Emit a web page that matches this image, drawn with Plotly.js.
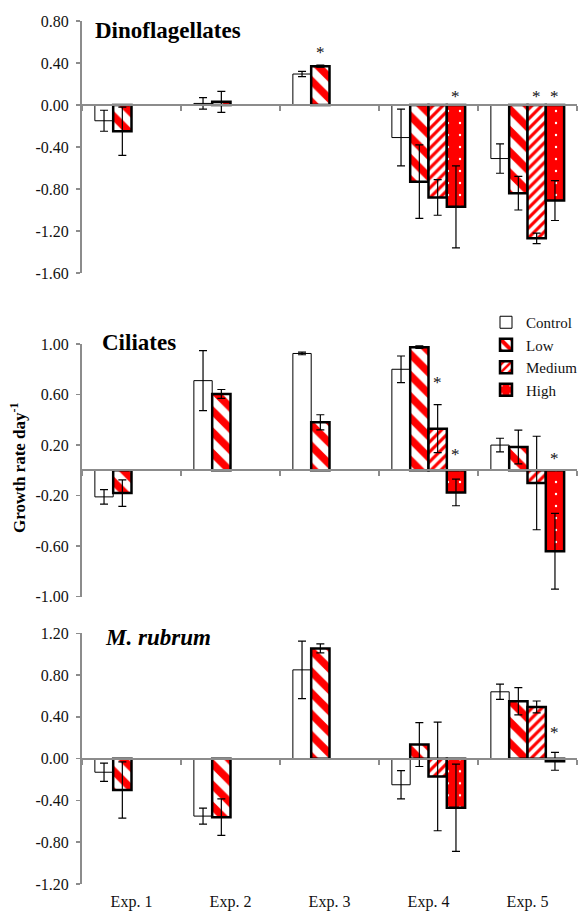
<!DOCTYPE html>
<html>
<head>
<meta charset="utf-8">
<script src="https://cdn.plot.ly/plotly-3.0.1.min.js"></script>
<style>html,body{margin:0;padding:0;background:#fff;}#chart{width:587px;height:912px;}</style>
</head>
<body>
<div id="chart"></div>
<script>
// ---------- DATA ----------
const categories = ['Exp. 1', 'Exp. 2', 'Exp. 3', 'Exp. 4', 'Exp. 5'];
const seriesNames = ['Control', 'Low', 'Medium', 'High'];
const panelTitles = ['<b>Dinoflagellates</b>', '<b>Ciliates</b>', '<b><i>M. rubrum</i></b>'];

// Dinoflagellates
const dinoControl = [-0.15, 0.015, 0.295, -0.31, -0.51];
const dinoControlErr = [0.10, 0.055, 0.025, 0.27, 0.14];
const dinoLow = [-0.25, 0.03, 0.37, -0.73, -0.84];
const dinoLowErr = [0.23, 0.10, 0.01, 0.35, 0.16];
const dinoMedium = [null, null, null, -0.88, -1.27];
const dinoMediumErr = [null, null, null, 0.17, 0.05];
const dinoHigh = [null, null, null, -0.97, -0.91];
const dinoHighErr = [null, null, null, 0.39, 0.19];
// significance stars: [category index, series index, y]
const dinoStars = [[2, 1, 0.54], [3, 3, 0.12], [4, 2, 0.12], [4, 3, 0.12]];

// Ciliates
const ciliControl = [-0.21, 0.71, 0.925, 0.80, 0.20];
const ciliControlErr = [0.058, 0.237, 0.01, 0.105, 0.054];
const ciliLow = [-0.18, 0.605, 0.38, 0.975, 0.185];
const ciliLowErr = [0.105, 0.035, 0.06, 0.01, 0.134];
const ciliMedium = [null, null, null, 0.33, -0.10];
const ciliMediumErr = [null, null, null, 0.19, 0.37];
const ciliHigh = [null, null, null, -0.175, -0.64];
const ciliHighErr = [null, null, null, 0.105, 0.30];
const ciliStars = [[3, 2, 0.726], [3, 3, 0.158], [4, 3, 0.129]];

// M. rubrum
const rubControl = [-0.13, -0.55, 0.85, -0.25, 0.64];
const rubControlErr = [0.088, 0.077, 0.275, 0.135, 0.073];
const rubLow = [-0.30, -0.56, 1.055, 0.135, 0.55];
const rubLowErr = [0.27, 0.175, 0.043, 0.21, 0.13];
const rubMedium = [null, null, null, -0.17, 0.495];
const rubMediumErr = [null, null, null, 0.52, 0.057];
const rubHigh = [null, null, null, -0.47, -0.025];
const rubHighErr = [null, null, null, 0.418, 0.086];
const rubStars = [[4, 3, 0.293]];

// y tick values
const dinoTicks = [-1.6, -1.2, -0.8, -0.4, 0, 0.4, 0.8];
const ciliTicks = [-1.0, -0.6, -0.2, 0.2, 0.6, 1.0];
const rubTicks = [-1.2, -0.8, -0.4, 0, 0.4, 0.8, 1.2];

const yTitle = '<b>Growth rate day<sup>-1</sup></b>';

// ---------- LAYOUT / STYLE ----------
const W = 587, H = 912;
const FONT = '"Liberation Serif", "Times New Roman", Times, serif';
const px2x = p => p / W;
const px2y = p => 1 - p / H;
const xLeft = 82, xRight = 577;
const xDomain = [px2x(xLeft), px2x(xRight)];
const BARGAP = 0.26;
const catW = (xRight - xLeft) / categories.length;
const barW = catW * (1 - BARGAP) / 4;

const panels = [
  {vals: [dinoControl, dinoLow, dinoMedium, dinoHigh],
   errs: [dinoControlErr, dinoLowErr, dinoMediumErr, dinoHighErr],
   stars: dinoStars, ticks: dinoTicks, range: [-1.6, 0.8], pxTop: 21, pxBot: 273, titleY: 31, titleX: 93},
  {vals: [ciliControl, ciliLow, ciliMedium, ciliHigh],
   errs: [ciliControlErr, ciliLowErr, ciliMediumErr, ciliHighErr],
   stars: ciliStars, ticks: ciliTicks, range: [-1.0, 1.0], pxTop: 344, pxBot: 596.7, titleY: 342, titleX: 100},
  {vals: [rubControl, rubLow, rubMedium, rubHigh],
   errs: [rubControlErr, rubLowErr, rubMediumErr, rubHighErr],
   stars: rubStars, ticks: rubTicks, range: [-1.2, 1.2], pxTop: 633.3, pxBot: 884, titleY: 637, titleX: 103}
];

const styles = [
  {color: '#ffffff', line: {color: '#000', width: 1}, pattern: {shape: ''}},
  {color: '#ff0000', line: {color: '#000', width: 2.5},
   pattern: {shape: '\\', fgcolor: '#ff0000', bgcolor: '#ffffff', size: 15, solidity: 0.5}},
  {color: '#ff0000', line: {color: '#000', width: 2.5},
   pattern: {shape: '/', fgcolor: '#ff0000', bgcolor: '#ffffff', size: 7, solidity: 0.45}},
  {color: '#ff0000', line: {color: '#000', width: 2.5},
   pattern: {shape: '.', fgcolor: '#ffffff', bgcolor: '#ff0000', size: 12, solidity: 0.03}}
];

const traces = [];
const layout = {
  width: W, height: H,
  margin: {l: 0, r: 0, t: 0, b: 0},
  paper_bgcolor: '#fff', plot_bgcolor: '#fff',
  barmode: 'group', bargap: BARGAP, bargroupgap: 0,
  font: {family: FONT, size: 15, color: '#111'},
  showlegend: true,
  legend: {x: px2x(486), y: px2y(306), xanchor: 'left', yanchor: 'top', tracegroupgap: 0,
           font: {family: FONT, size: 15, color: '#111'}, bgcolor: 'rgba(0,0,0,0)', borderwidth: 0},
  annotations: [],
};

panels.forEach((p, k) => {
  const sfx = k === 0 ? '' : String(k + 1);
  const xa = 'x' + sfx, ya = 'y' + sfx;
  const d0 = px2y(p.pxBot), d1 = px2y(p.pxTop);
  const zeroPos = d0 + (0 - p.range[0]) / (p.range[1] - p.range[0]) * (d1 - d0);
  p.vals.forEach((v, i) => {
    traces.push({
      type: 'bar', name: seriesNames[i], x: categories, y: v,
      xaxis: xa, yaxis: ya, showlegend: k === 1,
      marker: {color: styles[i].color, line: styles[i].line, pattern: styles[i].pattern},
      error_y: {type: 'data', array: p.errs[i], visible: true, color: '#000', thickness: 1.2, width: 4},
      hoverinfo: 'skip'
    });
  });
  layout['xaxis' + sfx] = {
    domain: xDomain, anchor: 'free', position: zeroPos, type: 'category',
    categoryorder: 'array', categoryarray: categories, range: [-0.5, categories.length - 0.5],
    showline: true, linecolor: '#8c8c8c', linewidth: 2,
    ticks: 'outside', tickson: 'boundaries', ticklen: 5, tickcolor: '#8c8c8c', tickwidth: 1.5,
    showgrid: false, zeroline: false, fixedrange: true, automargin: false,
    showticklabels: k === 2,
    ticklabelstandoff: k === 2 ? 128 : 0,
    tickfont: {family: FONT, size: 16, color: '#111'}
  };
  layout['yaxis' + sfx] = {
    domain: [d0, d1], anchor: xa, range: p.range,
    tickvals: p.ticks, ticktext: p.ticks.map(t => t.toFixed(2)),
    showline: true, linecolor: '#8c8c8c', linewidth: 2,
    ticks: 'outside', ticklen: 4, tickcolor: '#8c8c8c', tickwidth: 1.5,
    ticklabelstandoff: 4,
    showgrid: false, zeroline: false, fixedrange: true, automargin: false,
    tickfont: {family: FONT, size: 16, color: '#111'}
  };
  layout.annotations.push({
    xref: 'paper', yref: 'paper', x: px2x(p.titleX), y: px2y(p.titleY),
    xanchor: 'left', yanchor: 'middle', showarrow: false, text: panelTitles[k],
    font: {family: FONT, size: 23, color: '#000'}
  });
  p.stars.forEach(s => {
    layout.annotations.push({
      xref: xa, yref: ya, x: categories[s[0]], y: s[2],
      xshift: (s[1] - 1.5) * barW, yshift: -4,
      xanchor: 'center', yanchor: 'middle', showarrow: false, text: '*',
      font: {family: FONT, size: 17, color: '#111'}
    });
  });
});

layout.annotations.push({
  xref: 'paper', yref: 'paper', x: px2x(18), y: px2y(468),
  xanchor: 'center', yanchor: 'middle', showarrow: false, textangle: -90,
  text: yTitle, font: {family: FONT, size: 17, color: '#000'}
});

Plotly.newPlot('chart', traces, layout, {staticPlot: true, displayModeBar: false});
</script>
</body>
</html>
